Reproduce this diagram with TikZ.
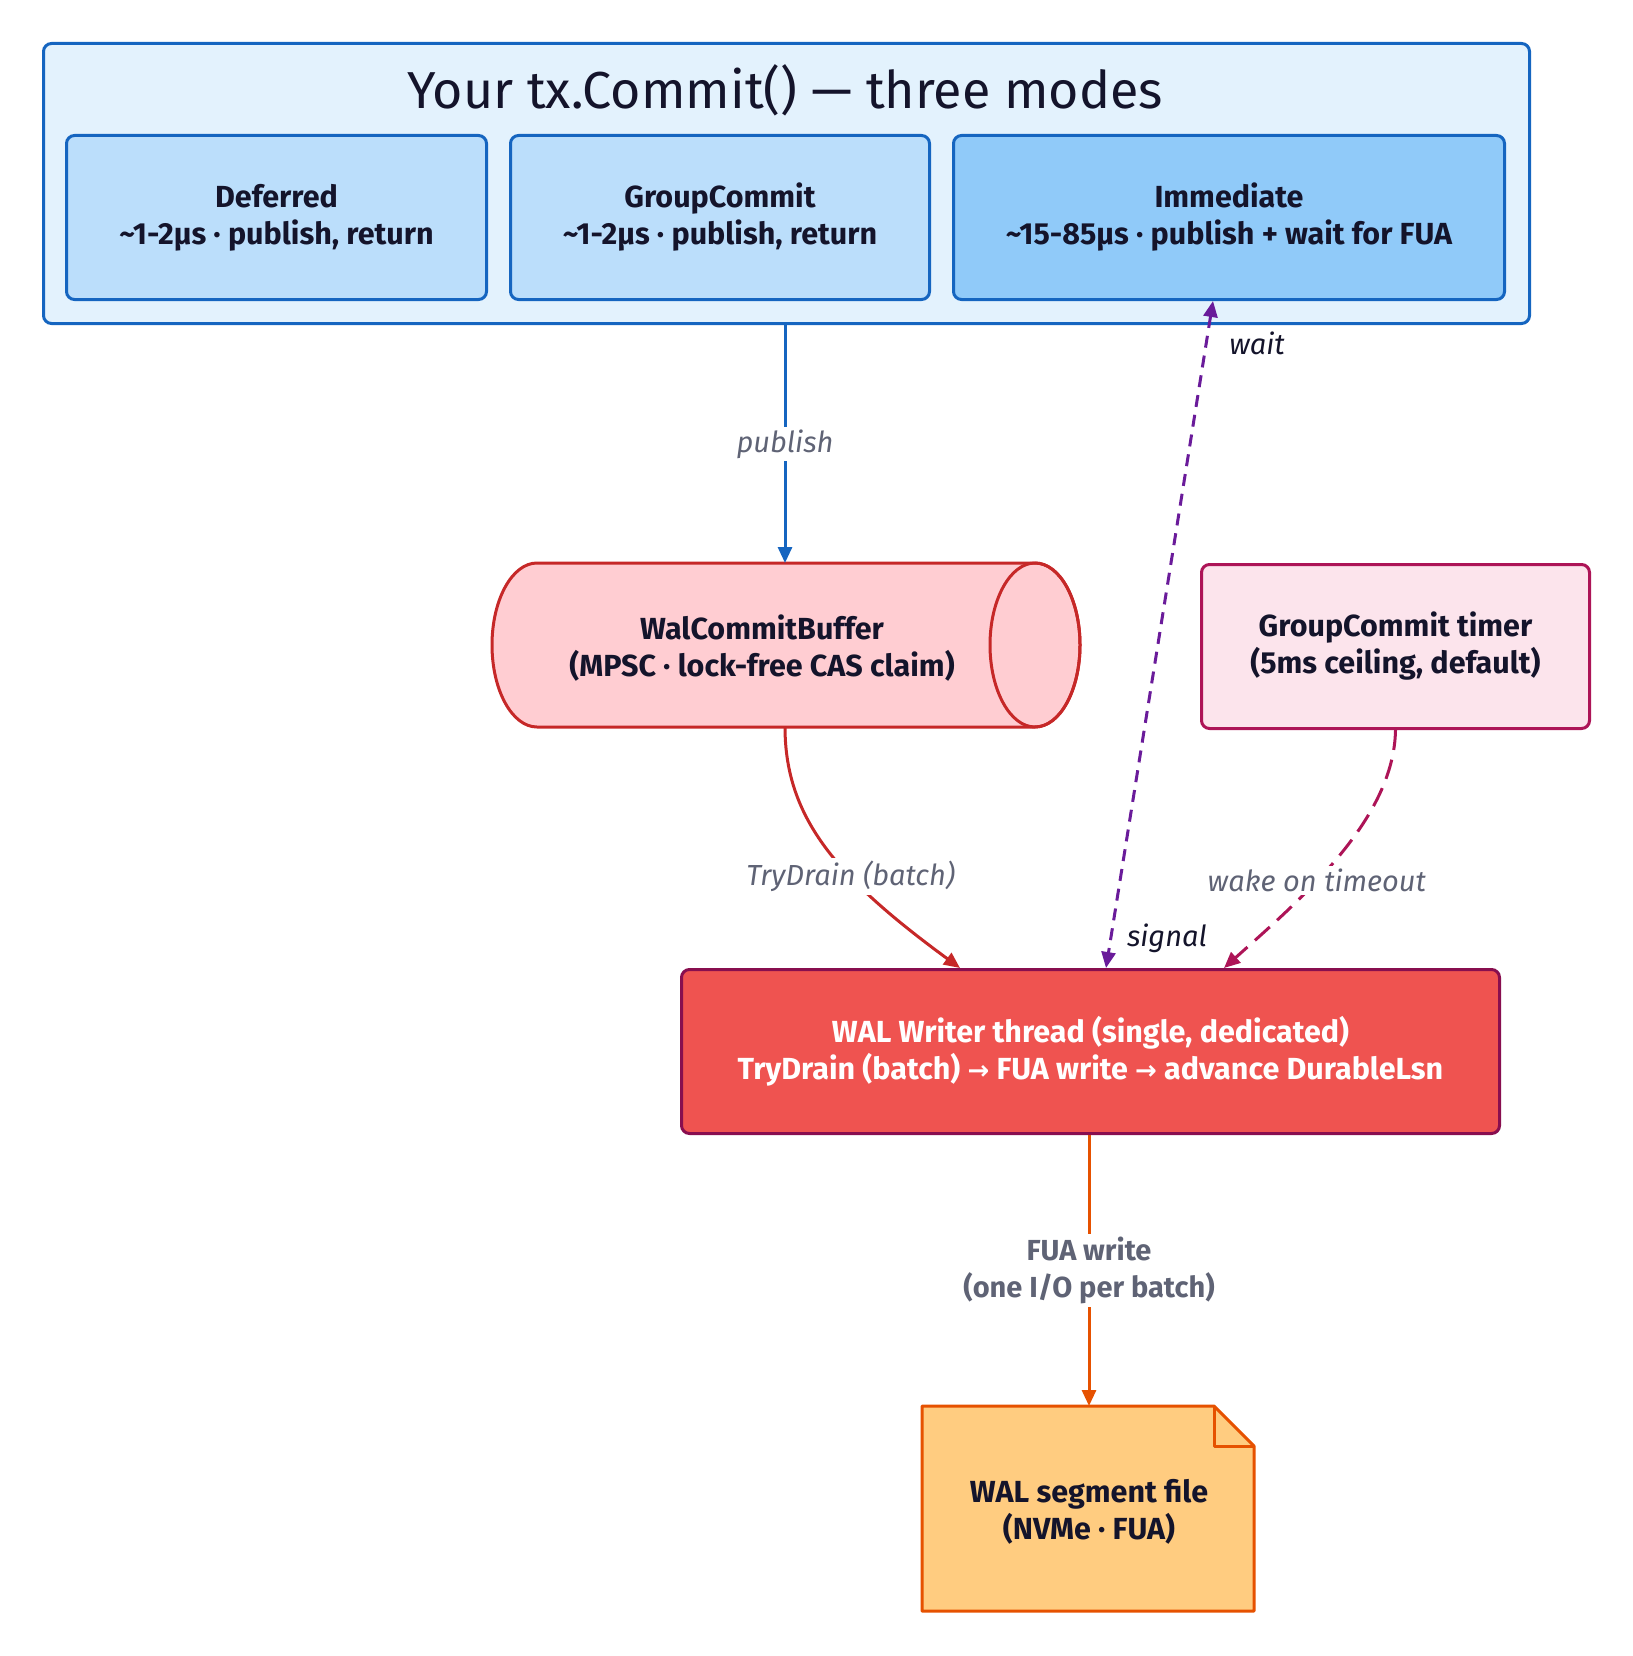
\documentclass[tikz,border=0pt]{standalone}
\usepackage{fontspec}
\setmainfont{Fira Sans}
\usetikzlibrary{arrows.meta}
\definecolor{txt}{HTML}{14142B}
\definecolor{lbl}{HTML}{5F6375}
\begin{document}
\begin{tikzpicture}[x=1pt,y=-1pt,
  box/.style={draw,line width=3pt,rounded corners=8pt,align=center,text=txt,font=\fontsize{30.5}{37}\selectfont\bfseries,inner sep=0},
  lab/.style={font=\fontsize{29}{36}\selectfont\itshape,text=lbl,fill=white,inner sep=3pt},
  arr/.style={line width=3pt,-{Triangle[length=16pt,width=14pt]}}]
\useasboundingbox (0,0) rectangle (1632,1656);
% outer
\node[box,draw={rgb,255:red,21;green,101;blue,192},fill={rgb,255:red,227;green,242;blue,253},minimum width=1486pt,minimum height=280pt,anchor=north west] (outer) at (42,42) {};
\node[text=txt,font=\fontsize{52}{60}\selectfont] (title) at (785,90) {Your tx.Commit() — three modes};
\tikzset{sub/.style={box,draw={rgb,255:red,21;green,101;blue,192},fill={rgb,255:red,187;green,222;blue,251},minimum height=164pt,anchor=north west}}
\node[sub,minimum width=420pt] (def) at (65,134) {Deferred\\\textasciitilde1-2µs · publish, return};
\node[sub,minimum width=419pt] (grp) at (509,134) {GroupCommit\\\textasciitilde1-2µs · publish, return};
\node[sub,minimum width=551pt,fill={rgb,255:red,144;green,202;blue,249}] (imm) at (952,134) {Immediate\\\textasciitilde15-85µs · publish + wait for FUA};
% cylinder
\draw[line width=3pt,draw={rgb,255:red,198;green,40;blue,40},fill={rgb,255:red,255;green,205;blue,210}]
  (1035,563) -- (537,563) .. controls (512,563) and (492,600) .. (492,645) .. controls (492,690) and (512,727) .. (537,727)
  -- (1035,727) .. controls (1060,727) and (1080,690) .. (1080,645) .. controls (1080,600) and (1060,563) .. (1035,563) -- cycle;
\draw[line width=3pt,draw={rgb,255:red,198;green,40;blue,40}] (1035,645) ellipse[x radius=45,y radius=82];
\node[align=center,text=txt,font=\fontsize{30.5}{37}\selectfont\bfseries] (cyl) at (762,648) {WalCommitBuffer\\(MPSC · lock-free CAS claim)};
\coordinate (cylbot) at (785,727);
\coordinate (cyltop) at (785,563);
% timer
\node[box,draw={rgb,255:red,173;green,20;blue,87},fill={rgb,255:red,252;green,228;blue,236},minimum width=388pt,minimum height=164pt,anchor=north west] (timer) at (1200,563) {GroupCommit timer\\(5ms ceiling, default)};
% writer
\node[box,draw={rgb,255:red,136;green,14;blue,79},fill={rgb,255:red,239;green,83;blue,80},text=white,minimum width=818pt,minimum height=164pt,anchor=north west] (writer) at (680,968) {WAL Writer thread (single, dedicated)\\TryDrain (batch) {\fontspec{DejaVu Sans}\fontsize{26}{37}\selectfont\bfseries→} FUA write {\fontspec{DejaVu Sans}\fontsize{26}{37}\selectfont\bfseries→} advance DurableLsn};
% file
\draw[line width=3pt,draw={rgb,255:red,230;green,81;blue,0},fill={rgb,255:red,255;green,204;blue,128},line join=round]
  (922,1406) -- (1214,1406) -- (1254,1446) -- (1254,1611) -- (922,1611) -- cycle;
\draw[line width=3pt,draw={rgb,255:red,230;green,81;blue,0},line join=round] (1214,1406) -- (1214,1446) -- (1254,1446);
\node[align=center,text=txt,font=\fontsize{30.5}{37}\selectfont\bfseries] (file) at (1089,1512) {WAL segment file\\(NVMe · FUA)};
\coordinate (filetop) at (1089,1406);
% connectors
\draw[arr,draw={rgb,255:red,21;green,101;blue,192},fill={rgb,255:red,21;green,101;blue,192}] (outer.south -| cyltop) -- node[lab]{publish} (cyltop);
\draw[line width=3pt,draw={rgb,255:red,198;green,40;blue,40},-{Triangle[length=16pt,width=14pt]}] (cylbot) .. controls (785,820) and (840,880) .. node[lab,pos=0.62]{TryDrain (batch)} (writer.north west -| 960,0) ;
\draw[line width=3pt,dash pattern=on 12pt off 8pt,draw={rgb,255:red,106;green,27;blue,154},{Triangle[length=16pt,width=14pt]}-{Triangle[length=16pt,width=14pt]}] (imm.south -| 1213,0) -- (writer.north -| 1106,0);
\node[font=\fontsize{29}{36}\selectfont\itshape,text=txt] (wl) at (1257,343) {wait};
\node[font=\fontsize{29}{36}\selectfont\itshape,text=txt] (sl) at (1167,938) {signal};
\draw[line width=3pt,dash pattern=on 20pt off 10pt,draw={rgb,255:red,173;green,20;blue,87},-{Triangle[length=16pt,width=14pt]}] (timer.south) .. controls (1394,820) and (1300,900) .. node[lab,pos=0.6]{wake on timeout} (writer.north -| 1224,0);
\draw[arr,draw={rgb,255:red,230;green,81;blue,0}] (writer.south -| filetop) -- node[lab,font=\fontsize{29}{37}\selectfont\bfseries,align=center]{FUA write\\(one I/O per batch)} (filetop);
\end{tikzpicture}
\end{document}
